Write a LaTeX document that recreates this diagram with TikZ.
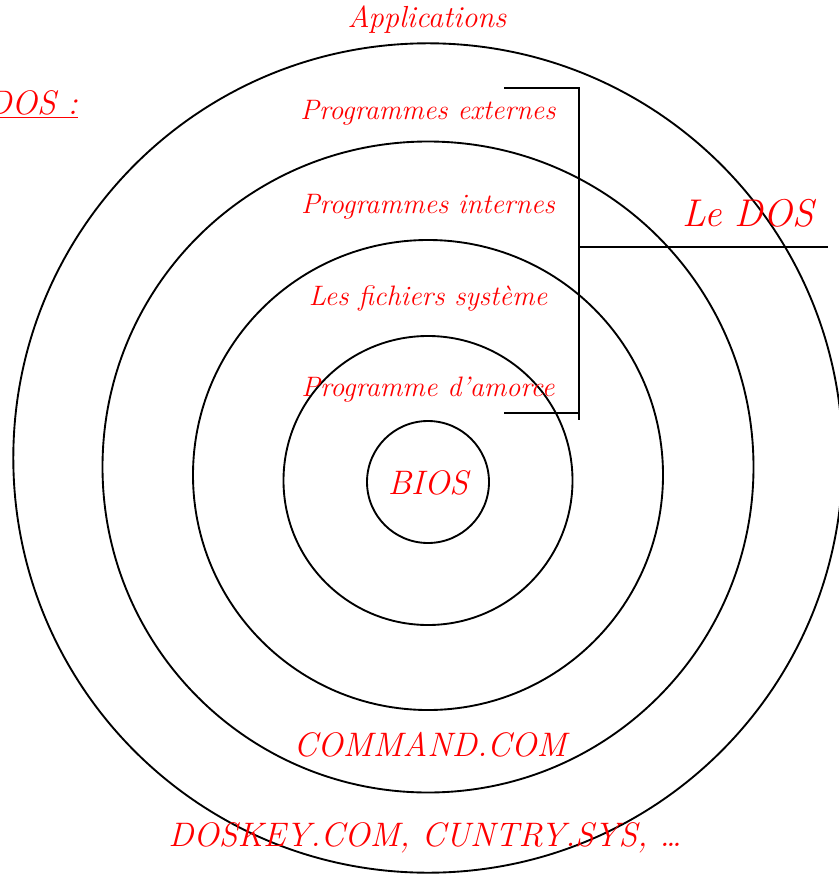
\documentclass[tikz,border=0pt]{standalone}
\begin{document}
\begin{tikzpicture}[x=0.03cm,y=-0.03cm,every node/.style={font=\fontsize{24}{26}\selectfont\itshape,text=red},
  caps/.style={font=\fontsize{29}{31}\selectfont\itshape}]
\useasboundingbox (0,0) rectangle (838,874);
% rings of the DOS, BIOS in the middle
\foreach \cy/\r in {482/61,480.5/144.5,475/235,467/325.5,458/414.7} {
  \draw[line width=1.6pt] (428,\cy) circle (\r);
}
\node[font=\fontsize{26}{28}\selectfont\itshape] (apps) at (427,20) {Applications};
\node (ext) at (428,113) {Programmes externes};
\node (int) at (428,207) {Programmes internes};
\node (sys) at (428,298) {Les fichiers système};
\node (boot) at (428,390) {Programme d'amorce};
\node[caps] (bios) at (428,483) {BIOS};
\node[caps] (cmd) at (430,745) {COMMAND.COM};
\node[caps] (files) at (425,838) {DOSKEY.COM, CUNTRY.SYS, \dots};
\node[font=\fontsize{33}{35}\selectfont\itshape] (dos) at (748,213) {Le DOS};
\node[caps,anchor=east] (title) at (82,104) {\underline{DOS :}};
% bracket round the DOS layers
\coordinate (brTL) at (504,88);
\coordinate (brTR) at (579,88);
\coordinate (brB) at (579,420);
\coordinate (brBL) at (504,413);
\coordinate (brBR) at (579,413);
\coordinate (brM) at (579,247);
\coordinate (brEnd) at (828,247);
\draw[line width=1.6pt] (brTL) -- (brTR) -- (brB);
\draw[line width=1.6pt] (brBL) -- (brBR);
\draw[line width=1.6pt] (brM) -- (brEnd);
\end{tikzpicture}
\end{document}
